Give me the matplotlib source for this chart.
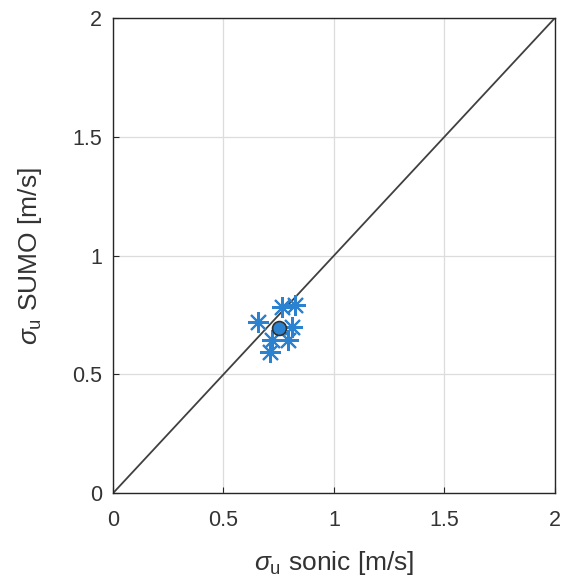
import numpy as np
import matplotlib
matplotlib.use('Agg')
import matplotlib.pyplot as plt

plt.rcParams['font.family'] = ['Liberation Sans', 'DejaVu Sans']
plt.rcParams['mathtext.fontset'] = 'custom'
plt.rcParams['mathtext.rm'] = 'Liberation Sans'
plt.rcParams['mathtext.it'] = 'Liberation Sans:italic'

# sigma_u values, sonic vs SUMO
sonic = [0.657, 0.763, 0.824, 0.81, 0.793, 0.718, 0.71]
sumo = [0.721, 0.784, 0.792, 0.70, 0.644, 0.644, 0.595]
ticks = [0, 0.5, 1, 1.5, 2]
tick_labels = ['0', '0.5', '1', '1.5', '2']

fig = plt.figure(figsize=(5.65, 5.83), dpi=100)
ax = fig.add_axes([0.2, 0.154, 0.782, 0.815])

ax.plot([0, 2], [0, 2], color='#404040', lw=1.3, zorder=2)
ax.plot(sonic, sumo, linestyle='none', marker=(8, 2, 0), markersize=15,
        markeredgewidth=1.5, color='#2a82d0', zorder=3)
ax.plot(np.mean(sonic), np.mean(sumo), 'o', markersize=10, markerfacecolor='#2a82d0',
        markeredgecolor='#303030', markeredgewidth=1.2, zorder=4)

ax.set_xlim(0, 2)
ax.set_ylim(0, 2)
ax.set_xticks(ticks)
ax.set_xticklabels(tick_labels)
ax.set_yticks(ticks)
ax.set_yticklabels(tick_labels)
ax.grid(True, color='#dcdcdc', lw=0.9)
ax.set_axisbelow(True)
ax.tick_params(labelsize=15.5, direction='in', length=4, color='#262626', labelcolor='#333333')
ax.tick_params(axis='x', pad=12)
ax.tick_params(axis='y', pad=8)
for s in ax.spines.values():
    s.set_color('#262626')
    s.set_linewidth(1.0)

ax.set_xlabel(r'$\sigma_{\mathrm{u}}$ sonic [m/s]', fontsize=19, color='#333333', labelpad=13)
ax.set_ylabel(r'$\sigma_{\mathrm{u}}$ SUMO [m/s]', fontsize=19, color='#333333', labelpad=20)

fig.savefig('out.png', dpi=100)
